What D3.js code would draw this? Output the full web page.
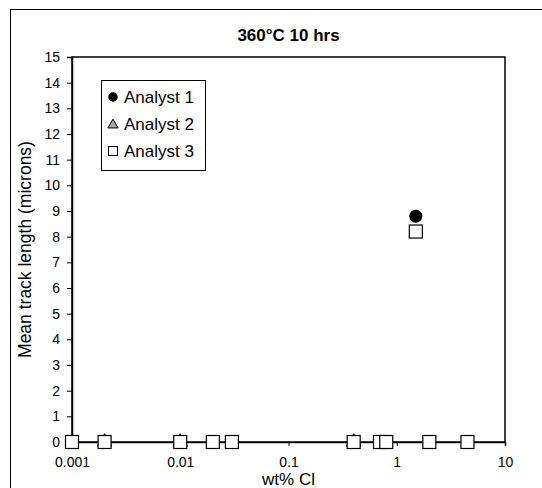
<!DOCTYPE html>
<html lang="en">
<head>
    <meta charset="UTF-8">
    <title>360°C 10 hrs</title>
    <script src="https://cdn.jsdelivr.net/npm/d3@7"></script>
    <style>
        body { margin: 0; background: #fff; }
        text { font-family: Arial, "Liberation Sans", sans-serif; }
    </style>
</head>
<body>
    <div id="chart"></div>
    <script>
        // data
        const a1_x = [0.002, 0.01, 0.4, 1.5];
        const a1_y = [0, 0, 0, 8.8];
        const a2_x = [0.002, 0.01, 0.4];
        const a2_y = [0, 0, 0];
        const a3_x = [0.001, 0.002, 0.01, 0.02, 0.03, 0.4, 0.7, 0.8, 1.5, 2, 4.5];
        const a3_y = [0, 0, 0, 0, 0, 0, 0, 0, 8.2, 0, 0];
        const x_ticks = [0.001, 0.01, 0.1, 1, 10];
        const y_ticks = d3.range(0, 16);
        const legend_names = ['Analyst 1', 'Analyst 2', 'Analyst 3'];

        const width = 542, height = 488;
        const padding = {left: 72, right: 37, top: 57, bottom: 46};

        const svg = d3.select('#chart').append('svg')
            .attr('width', width)
            .attr('height', height);

        // outer frame
        svg.append('rect')
            .attr('x', 10.5).attr('y', 9.5)
            .attr('width', 540).attr('height', 490)
            .attr('fill', 'none').attr('stroke', '#000');

        const xScale = d3.scaleLog()
            .domain([0.001, 10])
            .range([padding.left, width - padding.right]);
        const yScale = d3.scaleLinear()
            .domain([0, 15])
            .range([height - padding.bottom, padding.top]);

        // plot frame
        svg.append('rect')
            .attr('x', padding.left).attr('y', padding.top)
            .attr('width', width - padding.left - padding.right)
            .attr('height', height - padding.top - padding.bottom)
            .attr('fill', 'none').attr('stroke', '#000').attr('stroke-width', 1.5);

        const xAxis = svg.append('g')
            .attr('transform', 'translate(0,' + (height - padding.bottom) + ')')
            .call(d3.axisBottom(xScale).tickValues(x_ticks).tickFormat(d => String(d)).tickSize(4).tickPadding(11));
        const yAxis = svg.append('g')
            .attr('transform', 'translate(' + padding.left + ',0)')
            .call(d3.axisLeft(yScale).tickValues(y_ticks).tickSize(5).tickPadding(7));
        [xAxis, yAxis].forEach(g => {
            g.select('.domain').attr('stroke-width', 1.5);
            g.selectAll('text').attr('font-size', 14).attr('fill', '#000')
                .style('font-family', 'Arial, "Liberation Sans", sans-serif');
        });

        // title and axis labels
        svg.append('text').text('360°C 10 hrs')
            .attr('x', (padding.left + width - padding.right) / 2).attr('y', 41)
            .attr('text-anchor', 'middle').attr('font-size', 17).attr('font-weight', 'bold');
        svg.append('text').text('wt% Cl')
            .attr('x', (padding.left + width - padding.right) / 2).attr('y', 485)
            .attr('text-anchor', 'middle').attr('font-size', 17);
        svg.append('text').text('Mean track length (microns)')
            .attr('transform', 'translate(31,' + ((padding.top + height - padding.bottom) / 2) + ') rotate(-90)')
            .attr('text-anchor', 'middle').attr('font-size', 17.5);

        // markers
        svg.selectAll('.a1').data(a1_x).enter().append('circle')
            .attr('class', 'a1')
            .attr('cx', d => xScale(d))
            .attr('cy', (d, i) => yScale(a1_y[i]))
            .attr('r', 6.5).attr('fill', '#000');
        const tri = d3.symbol().type(d3.symbolTriangle).size(90);
        svg.selectAll('.a2').data(a2_x).enter().append('path')
            .attr('class', 'a2')
            .attr('d', tri)
            .attr('transform', (d, i) => 'translate(' + xScale(d) + ',' + yScale(a2_y[i]) + ')')
            .attr('fill', '#a6a6a6').attr('stroke', '#000');
        svg.selectAll('.a3').data(a3_x).enter().append('rect')
            .attr('class', 'a3')
            .attr('x', d => xScale(d) - 6.5)
            .attr('y', (d, i) => yScale(a3_y[i]) - 6.5)
            .attr('width', 13).attr('height', 13)
            .attr('fill', '#fff').attr('stroke', '#000').attr('stroke-width', 1.2);

        // legend
        const lg = svg.append('g').attr('transform', 'translate(101,80)');
        lg.append('rect').attr('x', 0.5).attr('y', 0.5).attr('width', 104).attr('height', 90)
            .attr('fill', '#fff').attr('stroke', '#000');
        legend_names.forEach((name, i) => {
            const cy = 17 + i * 27;
            if (i === 0) {
                lg.append('circle').attr('cx', 12).attr('cy', cy).attr('r', 4.7).attr('fill', '#000');
            } else if (i === 1) {
                lg.append('path').attr('d', d3.symbol().type(d3.symbolTriangle).size(45))
                    .attr('transform', 'translate(12,' + (cy + 1) + ')')
                    .attr('fill', '#a6a6a6').attr('stroke', '#000');
            } else {
                lg.append('rect').attr('x', 7.5).attr('y', cy - 4.5).attr('width', 9).attr('height', 9)
                    .attr('fill', '#fff').attr('stroke', '#000');
            }
            lg.append('text').text(name).attr('x', 23).attr('y', cy + 6).attr('font-size', 17);
        });
    </script>
</body>
</html>
